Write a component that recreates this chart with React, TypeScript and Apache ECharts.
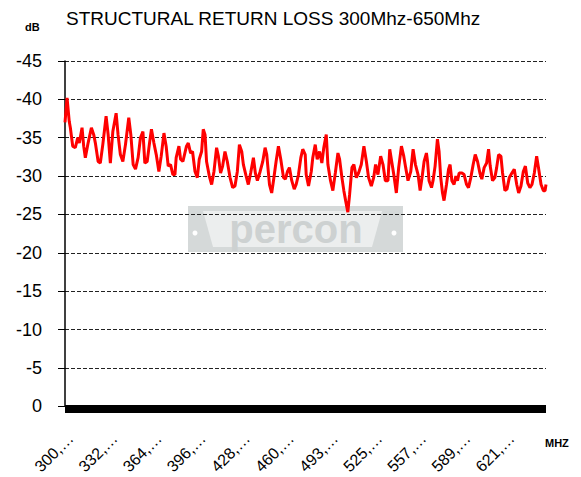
import React, { useEffect, useRef } from "react";
import * as echarts from "echarts";

const TITLE = "STRUCTURAL RETURN LOSS 300Mhz-650Mhz";
const Y_UNIT = "dB";
const X_UNIT = "MHZ";
const START_MHZ = 300;
const END_MHZ = 650;
const LABEL_STEP_MHZ = 32.09;
const Y_MIN = -45;
const Y_MAX = 0;
const Y_STEP = 5;

// [frequency MHz, return loss dB]
const trace: [number, number][] = [
  [300, -37.0], [301.5, -40.2], [303.1, -37.1], [303.9, -36.3], [305.6, -33.9], [307.5, -33.7],
  [309.3, -35.0], [310.4, -34.3], [312.4, -36.3], [313.6, -33.9], [314.8, -32.4], [316.8, -34.3],
  [319.2, -36.3], [320.9, -35.4], [322.1, -34.3], [324.1, -31.9], [325.7, -31.7], [327.5, -34.1],
  [329.9, -37.8], [331.4, -35.4], [333.0, -31.7], [334.8, -35.8], [337.2, -38.2], [338.6, -35.4],
  [340.3, -32.8], [342.1, -31.9], [344.0, -34.1], [346.4, -37.6], [347.9, -35.4], [349.6, -31.5],
  [351.3, -30.9], [353.2, -32.4], [354.9, -35.0], [356.7, -35.8], [358.1, -31.7], [359.8, -31.9],
  [361.5, -34.3], [362.9, -36.1], [364.7, -34.3], [366.4, -32.8], [368.3, -30.6], [370.0, -32.6],
  [372.0, -35.6], [373.6, -33.9], [375.1, -31.3], [376.8, -31.5], [378.5, -30.2], [380.0, -30.2],
  [380.9, -32.4], [382.9, -33.9], [384.1, -32.2], [385.8, -31.9],
  [388.4, -33.9], [389.7, -34.3], [391.4, -33.0], [392.8, -33.2], [394.6, -30.6], [396.3, -29.8],
  [397.7, -32.2], [399.4, -33.2], [400.6, -36.1], [401.9, -35.4], [403.0, -31.9], [405.0, -30.0],
  [406.7, -28.9], [408.4, -30.6], [410.3, -33.7], [411.6, -32.6], [413.2, -30.4], [414.7, -31.3],
  [416.4, -33.2], [418.1, -31.9], [420.1, -29.8], [422.0, -28.5], [423.7, -28.7], [425.4, -30.6],
  [426.9, -34.1], [428.6, -33.2], [429.8, -31.5], [431.8, -30.0], [433.4, -28.9], [435.1, -30.4],
  [437.1, -32.4], [438.5, -30.4], [440.0, -29.4], [442.0, -30.6], [443.9, -31.9], [445.6, -33.7],
  [446.8, -32.8], [448.8, -28.9], [450.4, -27.8], [451.7, -29.4], [453.6, -31.9], [455.3, -33.9],
  [457.0, -32.2], [459.0, -29.8], [460.4, -29.6], [461.9, -30.6], [463.3, -31.1], [465.0, -29.4],
  [466.8, -28.3], [468.2, -28.9], [469.9, -30.2], [471.6, -32.4], [473.0, -33.5], [474.8, -32.8],
  [475.5, -30.2], [477.2, -28.7], [479.2, -30.6], [480.3, -32.4], [482.1, -34.1], [483.5, -32.2],
  [485.2, -33.2], [486.9, -31.7], [488.3, -33.7], [490.1, -35.4], [491.3, -31.5], [493.2, -29.4],
  [494.9, -28.1], [496.7, -30.4], [498.6, -33.0], [499.8, -32.2], [501.5, -29.8], [502.9, -28.1],
  [504.2, -26.8], [505.8, -25.3], [507.1, -27.6], [508.8, -31.1], [510.2, -31.5], [512.0, -29.8],
  [513.6, -30.4], [515.6, -31.5], [517.5, -33.9], [519.3, -31.9], [520.9, -29.8], [522.9, -28.7],
  [524.6, -29.8], [526.0, -31.5], [527.7, -30.2], [529.7, -32.6], [531.4, -31.5], [533.1, -29.4],
  [535.0, -29.4], [536.3, -33.5], [537.9, -31.7], [539.4, -30.0], [541.1, -27.8], [542.8, -31.1],
  [544.8, -33.9], [546.5, -32.6], [547.9, -31.1], [549.6, -29.4], [551.6, -30.6], [553.3, -33.5],
  [555.0, -31.5], [556.9, -30.2], [558.4, -28.1], [559.8, -29.8], [561.3, -31.9], [563.0, -33.0],
  [563.8, -31.9], [564.9, -29.4], [566.7, -28.5], [567.8, -29.4], [569.3, -31.3], [571.0, -34.8],
  [572.2, -33.2], [573.4, -29.8], [574.7, -27.8], [575.8, -26.8], [577.6, -28.9], [579.1, -30.9],
  [580.2, -31.5], [581.5, -29.4], [583.1, -28.9], [584.4, -30.0], [585.6, -29.4], [586.8, -30.4],
  [588.8, -30.4], [590.4, -30.2], [592.2, -28.9], [593.6, -28.5], [595.3, -29.8], [597.0, -31.5],
  [598.5, -32.8], [600.2, -31.9], [601.9, -30.4], [603.3, -29.6], [605.0, -31.1], [606.8, -31.7],
  [608.2, -33.5], [609.4, -31.3], [611.1, -29.4], [612.8, -29.8], [614.1, -31.1], [615.5, -32.8],
  [617.2, -32.6], [618.4, -30.4], [620.1, -28.1], [621.6, -28.3], [623.3, -29.8], [625.2, -30.4],
  [626.9, -30.9], [628.7, -28.9], [630.1, -27.8], [631.8, -28.7], [633.5, -30.6], [635.0, -31.3],
  [636.7, -29.1], [638.3, -28.5], [639.8, -28.9], [641.5, -30.4], [643.2, -32.6], [644.7, -30.9],
  [646.4, -28.9], [648.1, -28.1], [649.3, -28.1], [650, -28.9],
];

const FONT = "Arial, 'Liberation Sans', sans-serif";

export default function App() {
  const ref = useRef<HTMLDivElement>(null);

  useEffect(() => {
    if (!ref.current) return;
    const chart = echarts.init(ref.current, undefined, { renderer: "svg" });
    const span = END_MHZ - START_MHZ;
    chart.setOption({
      animation: false,
      backgroundColor: "#ffffff",
      title: {
        text: TITLE,
        left: 61,
        top: 4,
        textStyle: { fontFamily: FONT, fontSize: 19, fontWeight: "normal", color: "#000" },
      },
      grid: { left: 65, right: 35, top: 61, bottom: 69, containLabel: false },
      xAxis: {
        type: "value",
        min: 0,
        max: span,
        interval: LABEL_STEP_MHZ,
        offset: 3,
        axisLine: { onZero: false, lineStyle: { color: "#000", width: 8, cap: "butt" } },
        axisTick: { show: false },
        splitLine: { show: false },
        axisLabel: {
          rotate: 45,
          margin: 21,
          verticalAlign: "top",
          showMaxLabel: false,
          fontFamily: FONT,
          fontSize: 16,
          color: "#000",
          formatter: (v: number) => (v > span - 1 ? "" : `${Math.round(START_MHZ + v)},…`),
        },
      },
      yAxis: {
        type: "value",
        min: Y_MIN,
        max: Y_MAX,
        interval: Y_STEP,
        inverse: true,
        axisLine: { show: true, lineStyle: { color: "#000", width: 1.5 } },
        axisTick: { show: true, length: 7, lineStyle: { color: "#000", width: 1 } },
        splitLine: { show: true, lineStyle: { color: "#222", width: 1, type: [4, 2] } },
        axisLabel: { margin: 23, fontFamily: FONT, fontSize: 18, color: "#000" },
      },
      graphic: [
        {
          type: "text",
          left: 25,
          top: 21,
          style: { text: Y_UNIT, font: `bold 11px ${FONT}`, fill: "#000" },
        },
        {
          type: "text",
          left: 545,
          top: 437,
          style: { text: X_UNIT, font: `bold 11px ${FONT}`, fill: "#000" },
        },
        {
          type: "group",
          z: -10,
          silent: true,
          children: [
            { type: "rect", z: -10, shape: { x: 188, y: 206, width: 215, height: 46 }, style: { fill: "#d5d9d9" } },
            {
              type: "polygon",
              z: -10,
              shape: { points: [[203, 211], [382, 211], [372, 247], [213, 247]] },
              style: { fill: "#eceeee" },
            },
            {
              type: "text",
              z: -10,
              x: 296,
              y: 229,
              style: {
                text: "percon",
                font: `bold 40px ${FONT}`,
                fill: "#cdd1d1",
                align: "center",
                verticalAlign: "middle",
              },
            },
            { type: "circle", z: -10, shape: { cx: 195, cy: 233, r: 2.5 }, style: { fill: "#ffffff" } },
            { type: "circle", z: -10, shape: { cx: 394, cy: 233, r: 2.5 }, style: { fill: "#ffffff" } },
          ],
        },
      ],
      series: [
        {
          type: "line",
          data: trace.map(([f, d]) => [f - START_MHZ, d]),
          showSymbol: false,
          smooth: false,
          lineStyle: { color: "#ff0000", width: 3 },
          z: 5,
        },
      ],
    });
    return () => chart.dispose();
  }, []);

  return (
    <div
      ref={ref}
      style={{ position: "absolute", left: 0, top: 0, width: 581, height: 477 }}
    />
  );
}
